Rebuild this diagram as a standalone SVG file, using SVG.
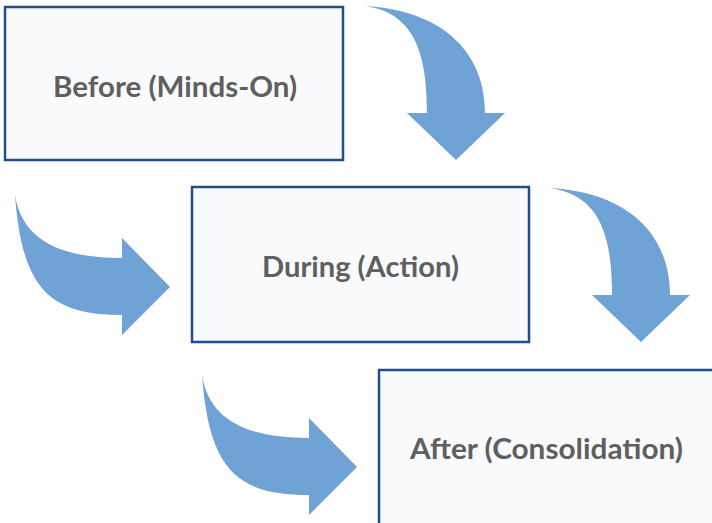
<svg xmlns="http://www.w3.org/2000/svg" width="712" height="523" viewBox="0 0 712 523">
<defs>
<style>
.box{fill:#f9fafc;stroke:#1f4e8f;stroke-width:2.5}
.lbl{font-family:Lato,"Open Sans","Liberation Sans",sans-serif;font-weight:bold;font-size:28px;fill:#5f5f5f;text-anchor:middle}
.arr{fill:#6fa2d5}
</style>
<path id="downArrow" d="M365,6 C414,13 427,52 427,113 L407,113 L456,160 L505,113 L485,113 C485,50 440,10 365,6 Z"/>
<path id="rightArrow" d="M15,195 C22,240 60,258 122,258 L122,238 L170,287 L122,335 L122,315 C50,315 22,290 15,195 Z"/>
</defs>
<rect width="712" height="523" fill="#ffffff"/>
<g id="connectors" class="arr">
<use href="#downArrow"/>
<use href="#rightArrow"/>
<use href="#downArrow" transform="translate(185,182)"/>
<use href="#rightArrow" transform="translate(187,180)"/>
</g>
<g id="before">
<rect class="box" x="5" y="7" width="338" height="153"/>
<text class="lbl" x="175" y="97" textLength="244" lengthAdjust="spacingAndGlyphs">Before (Minds-On)</text>
</g>
<g id="during">
<rect class="box" x="192" y="187" width="337" height="155"/>
<text class="lbl" x="360.5" y="277" textLength="197" lengthAdjust="spacingAndGlyphs">During (Action)</text>
</g>
<g id="after">
<rect class="box" x="379" y="370" width="340" height="160"/>
<text class="lbl" x="546.5" y="459" textLength="273" lengthAdjust="spacingAndGlyphs">After (Consolidation)</text>
</g>
</svg>
